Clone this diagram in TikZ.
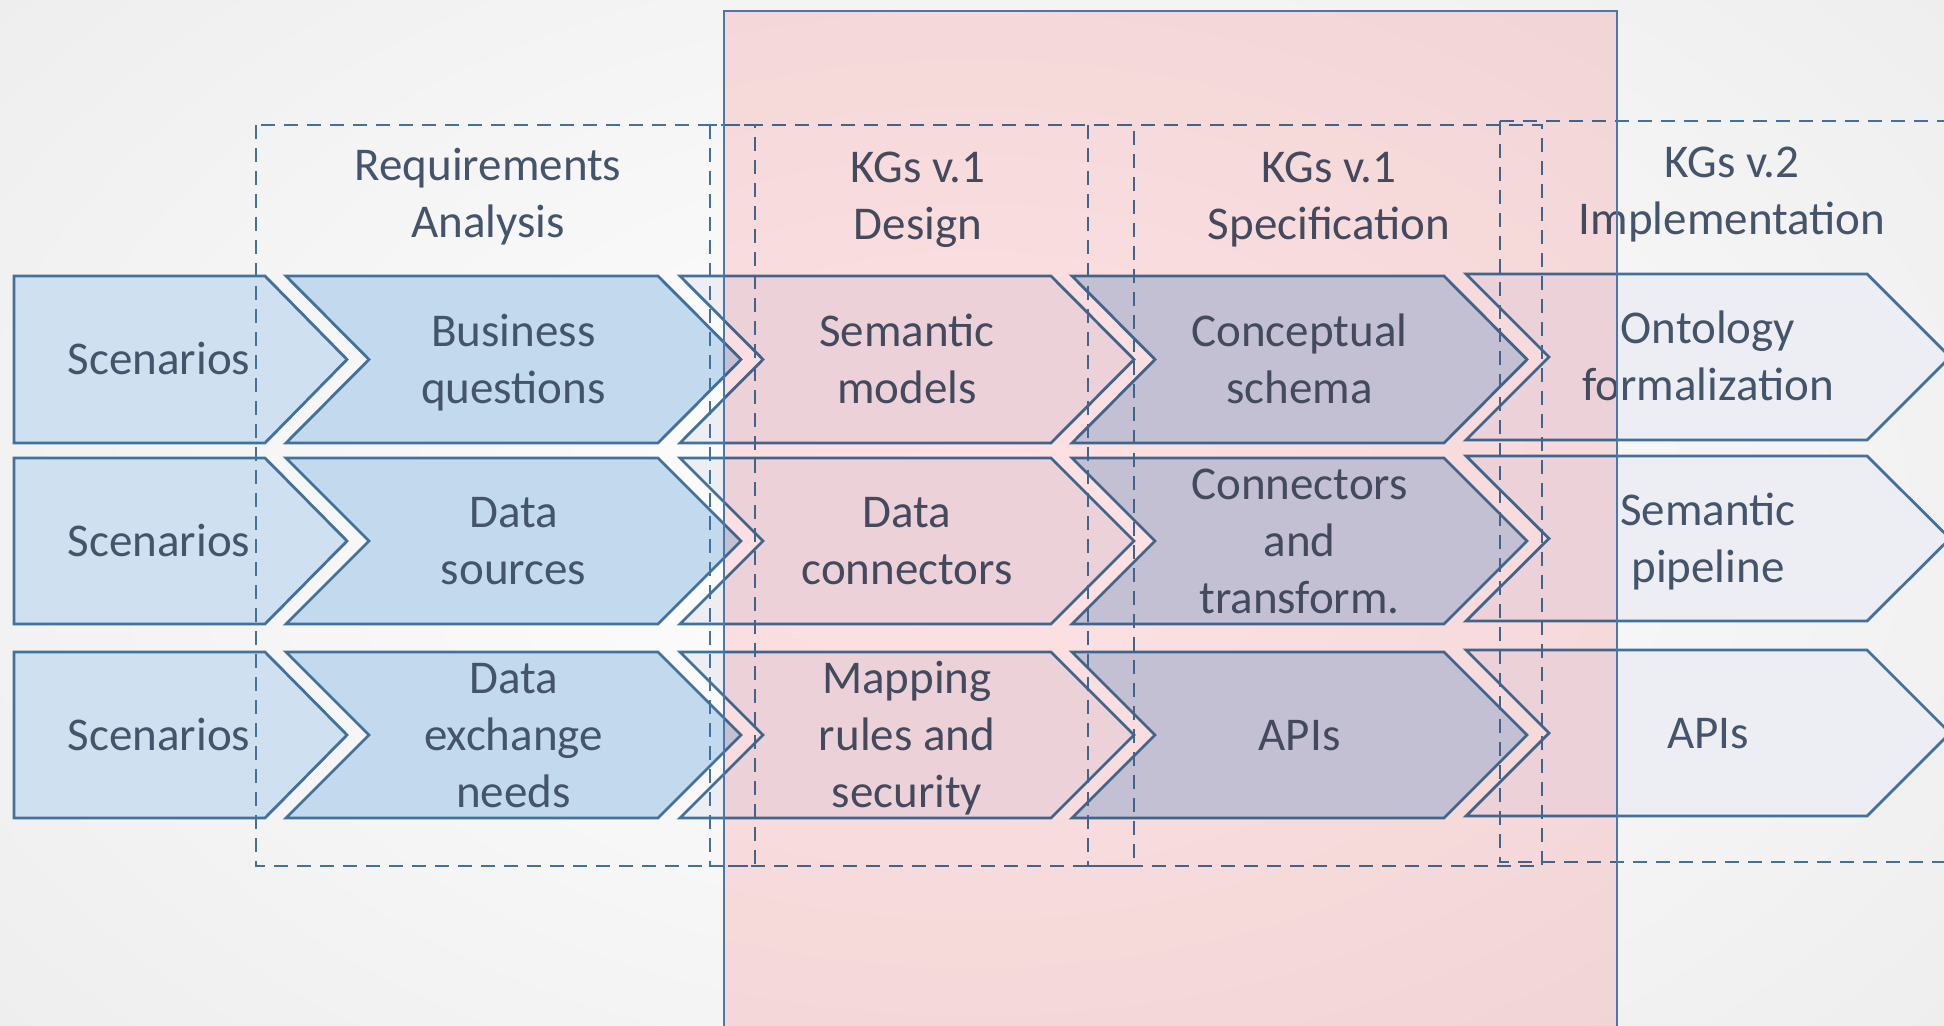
\documentclass[tikz,border=0pt]{standalone}
\usepackage{fontspec}
\setmainfont{Carlito}
\definecolor{scenc}{HTML}{CFE0F0}
\definecolor{busc}{HTML}{C3D9EE}
\definecolor{lightc}{HTML}{ECEEF3}
\definecolor{bordc}{HTML}{41719C}
\definecolor{dashc}{HTML}{41719C}
\definecolor{txtc}{HTML}{44546A}
\definecolor{pinkc}{HTML}{FFE2E3}
\definecolor{pinkb}{HTML}{4A78AC}
\definecolor{bgout}{HTML}{EEEEEE}
\newcommand\sv{\rule[-0.27em]{0pt}{1.18em}}
\newcommand\chevP[5]{% left x, right corner x, top y, bottom y, fill
  \draw[chevb, fill=#5] (#1,#3) -- (#2,#3) -- ({#2+82},{(#3+#4)/2}) -- (#2,#4) -- (#1,#4) -- cycle;}
\newcommand\chevN[5]{% left x, right corner x, top y, bottom y, fill
  \draw[chevb, fill=#5] (#1,#3) -- (#2,#3) -- ({#2+83},{(#3+#4)/2}) -- (#2,#4) -- (#1,#4) -- ({#1+83},{(#3+#4)/2}) -- cycle;}
\begin{document}
\begin{tikzpicture}[x=0.5pt,y=-0.5pt,
  chevb/.style={draw=bordc, line width=1.4pt, line join=miter},
  dbox/.style={draw=dashc, line width=1pt, dash pattern=on 7pt off 4.5pt},
  lab/.style={align=center, text=txtc, font=\fontsize{23.5}{28.5}\selectfont, inner sep=0pt}]
\useasboundingbox (0,0) rectangle (1944,1026);
\fill[white] (0,0) rectangle (1944,1026);
\shade[inner color=white, outer color=bgout] (-300,-300) rectangle (2244,1326);

% row 1
\chevP{14}{265}{276}{443}{scenc}
\chevN{286}{658}{276}{443}{busc}
\chevN{680}{1051}{276}{443}{lightc}
\chevN{1072}{1444}{276}{443}{busc}
\chevN{1466}{1867}{274}{440}{lightc}
% row 2
\chevP{14}{265}{458}{624}{scenc}
\chevN{286}{658}{458}{624}{busc}
\chevN{680}{1051}{458}{624}{lightc}
\chevN{1072}{1444}{458}{624}{busc}
\chevN{1466}{1867}{456}{621}{lightc}
% row 3
\chevP{14}{265}{652}{818}{scenc}
\chevN{286}{658}{652}{818}{busc}
\chevN{680}{1051}{652}{818}{lightc}
\chevN{1072}{1444}{652}{818}{busc}
\chevN{1466}{1867}{650}{816}{lightc}

% dashed phase boxes
\draw[dbox] (256,125) rectangle (755,866);
\draw[dbox] (710,125) rectangle (1134,866);
\draw[dbox] (1088,125) rectangle (1542,866);
\draw[dbox] (1500,121) -- (1960,121);
\draw[dbox] (1500,121) -- (1500,862) -- (1960,862);

% titles
\node[lab] (tReq) at (488,193.5) {\sv Requirements\\\sv Analysis};
\node[lab] (tDes) at (918,195.5) {\sv KGs v.1\\\sv Design};
\node[lab] (tSpec) at (1329,195.5) {\sv KGs v.1\\\sv Specification};
\node[lab] (tImpl) at (1732,190.5) {\sv KGs v.2\\\sv Implementation};

% labels
\node[lab] (s1) at (159,359.5) {\sv Scenarios};
\node[lab] (s2) at (159,541) {\sv Scenarios};
\node[lab] (s3) at (159,735) {\sv Scenarios};
\node[lab] (b1) at (513.5,359.5) {\sv Business\\\sv questions};
\node[lab] (b2) at (513.5,541) {\sv Data\\\sv sources};
\node[lab] (b3) at (513.5,735) {\sv Data\\\sv exchange\\\sv needs};
\node[lab] (d1) at (907,359.5) {\sv Semantic\\\sv models};
\node[lab] (d2) at (907,541) {\sv Data\\\sv connectors};
\node[lab] (d3) at (907,735) {\sv Mapping\\\sv rules and\\\sv security};
\node[lab] (c1) at (1299.5,359.5) {\sv Conceptual\\\sv schema};
\node[lab] (c2) at (1299.5,541) {\sv Connectors\\\sv and\\\sv transform.};
\node[lab] (c3) at (1299.5,735) {\sv APIs};
\node[lab] (o1) at (1708,357) {\sv Ontology\\\sv formalization};
\node[lab] (o2) at (1708,538.5) {\sv Semantic\\\sv pipeline};
\node[lab] (o3) at (1708,733) {\sv APIs};

% pink overlay
\begin{scope}[blend mode=multiply]
\fill[pinkc] (724,11) rectangle (1617,1040);
\end{scope}
\draw[draw=pinkb, line width=1.2pt] (724,11) rectangle (1617,1040);
\end{tikzpicture}
\end{document}
